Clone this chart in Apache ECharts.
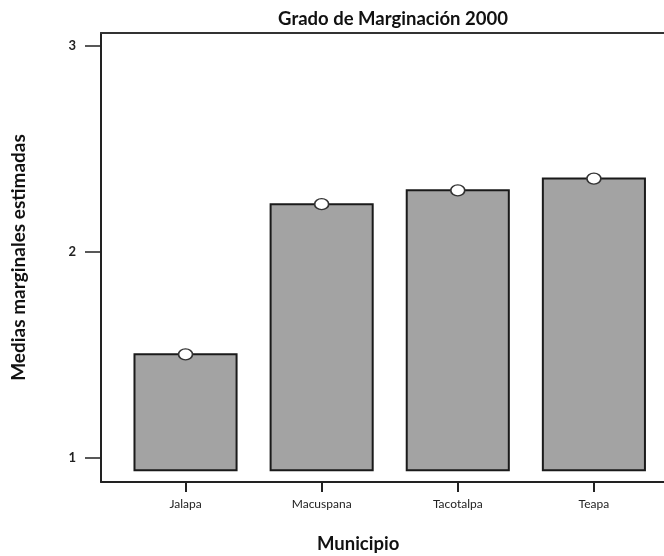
<!DOCTYPE html>
<html>
<head>
<meta charset="utf-8">
<script src="https://cdn.jsdelivr.net/npm/echarts@6/dist/echarts.min.js"></script>
<style>html,body{margin:0;padding:0;background:#fff}#c{width:664px;height:556px}</style>
</head>
<body>
<div id="c"></div>
<script>
const categories = ['Jalapa', 'Macuspana', 'Tacotalpa', 'Teapa'];
const positions = [1, 2, 3, 4];
const means = [1.503, 2.232, 2.299, 2.356];
const barBase = 0.94;
const yTicks = [1, 2, 3];

const FONT = 'Lato';
const chart = echarts.init(document.getElementById('c'), null, {renderer: 'canvas'});

const barData = positions.map((p, i) => [p, means[i], barBase]);
const pointData = positions.map((p, i) => [p, means[i]]);

chart.setOption({
  animation: false,
  backgroundColor: '#fff',
  title: {
    text: 'Grado de Marginación 2000',
    left: 388, top: 5, textAlign: 'center',
    textStyle: {fontFamily: FONT, fontWeight: 'bold', fontSize: 18.5, color: '#111'}
  },
  grid: {left: 101, right: 0, top: 33, bottom: 74, outerBoundsMode: 'none', containLabel: false},
  xAxis: [{
    type: 'value', min: 0.379, max: 4.515,
    splitLine: {show: false},
    axisLine: {show: true, lineStyle: {color: '#222', width: 2}},
    axisTick: {show: true, length: 10, customValues: positions, lineStyle: {color: '#222', width: 2}},
    axisLabel: {
      customValues: positions, margin: 16,
      formatter: v => categories[positions.indexOf(Math.round(v))] || '',
      fontFamily: FONT, fontSize: 12, color: '#222'
    }
  }, {
    type: 'value', min: 0.379, max: 4.515, position: 'top',
    splitLine: {show: false},
    axisLine: {show: true, lineStyle: {color: '#333', width: 2}},
    axisTick: {show: false}, axisLabel: {show: false}
  }],
  yAxis: {
    type: 'value', min: 0.883, max: 3.063,
    splitLine: {show: false},
    name: 'Medias marginales estimadas',
    nameLocation: 'middle', nameGap: 73, nameRotate: 90,
    nameTextStyle: {fontFamily: FONT, fontWeight: 'bold', fontSize: 19, color: '#111'},
    axisLine: {show: true, lineStyle: {color: '#222', width: 2}},
    axisTick: {show: true, length: 16, customValues: yTicks, lineStyle: {color: '#222', width: 1.5}},
    axisLabel: {customValues: yTicks, margin: 25, fontFamily: FONT, fontSize: 13, fontWeight: 'bold', color: '#222'}
  },
  graphic: [{
    type: 'text', left: 358 - 41, top: 535,
    style: {text: 'Municipio', font: 'bold 18.5px ' + FONT, fill: '#111'},
    z: 10
  }],
  series: [{
    type: 'custom',
    data: barData,
    renderItem: function (params, api) {
      const x = api.value(0), top = api.value(1), base = api.value(2);
      const w = api.size([0.75, 0])[0];
      const pTop = api.coord([x, top]);
      const pBase = api.coord([x, base]);
      return {
        type: 'rect',
        shape: {x: pTop[0] - w / 2, y: pTop[1], width: w, height: pBase[1] - pTop[1]},
        style: {fill: '#a3a3a3', stroke: '#1a1a1a', lineWidth: 2}
      };
    },
    z: 2
  }, {
    type: 'scatter',
    data: pointData,
    symbol: 'circle',
    symbolSize: [14, 11],
    itemStyle: {color: '#fff', borderColor: '#333', borderWidth: 1.5, opacity: 1},
    z: 5
  }]
});
</script>
</body>
</html>
